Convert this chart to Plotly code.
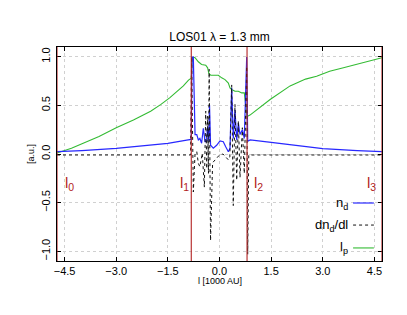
import plotly.graph_objects as go

# ---- data ----
x_nd = [-4.72, -4.0, -3.0, -2.0, -1.5, -0.91, -0.82, -0.80, -0.76, -0.71, -0.66, -0.615, -0.57, -0.52,
        -0.47, -0.42, -0.38, -0.345, -0.31, -0.29, -0.26, -0.18, -0.083, 0.014, 0.11, 0.18, 0.257,
        0.305, 0.354, 0.40, 0.45, 0.50, 0.548, 0.596, 0.664, 0.72, 0.79, 0.82, 0.89, 1.5, 2.0,
        3.0, 4.0, 4.72]
y_nd = [0.024, 0.035, 0.058, 0.09, 0.11, 0.145, 0.15, 0.996, 0.996, 0.20, 0.20, 0.145, 0.16, 0.11,
        0.265, 0.127, 0.127, 0.28, 0.13, 0.507, 0.09, 0.06, 0.09, 0.135, 0.127, 0.075, 0.024,
        0.058, 0.68, 0.16, 0.455, 0.145, 0.317, 0.20, 0.25, 0.16, 0.996, 0.13, 0.145, 0.12, 0.10,
        0.056, 0.035, 0.024]

x_dn = [-4.72, -0.84, -0.81, -0.76, -0.71, -0.66, -0.615, -0.57, -0.50, -0.44, -0.40, -0.37,
        -0.345, -0.32, -0.30, -0.26, -0.20, -0.10, 0.0, 0.10, 0.18, 0.257, 0.30, 0.354, 0.40,
        0.45, 0.50, 0.548, 0.596, 0.664, 0.72, 0.79, 0.82, 0.85, 4.72]
y_dn = [-0.01, -0.01, 1.0, -0.39, 0.007, 0.024, -0.096, -0.13, 0.007, -0.34, 0.44, -0.15,
        0.39, -0.20, 0.87, -0.89, -0.09, -0.05, -0.01, 0.0, -0.03, -0.06, -0.03, 0.71, -0.53,
        0.51, -0.27, 0.34, -0.24, 0.27, -0.20, 0.90, -1.03, -0.01, -0.01]

x_lp = [-4.72, -4.3, -3.96, -3.5, -3.0, -2.5, -2.0, -1.7, -1.44, -1.2, -1.05, -0.9, -0.82, -0.79,
        -0.76, -0.71, -0.615, -0.52, -0.40, -0.345, -0.306, -0.25, -0.034, 0.063, 0.16, 0.257,
        0.305, 0.354, 0.45, 0.548, 0.645, 0.72, 0.76, 0.80, 0.886, 1.1, 1.47, 2.05, 2.5, 2.82,
        3.2, 3.6, 4.2, 4.72]
y_lp = [0.01, 0.06, 0.11, 0.18, 0.27, 0.35, 0.44, 0.51, 0.58, 0.65, 0.70, 0.76, 0.78, 0.99,
        0.996, 0.99, 0.948, 0.92, 0.913, 0.886, 0.824, 0.81, 0.81, 0.783, 0.765, 0.73,
        0.68, 0.662, 0.645, 0.645, 0.628, 0.628, 0.47, 0.386, 0.40, 0.46, 0.56, 0.70, 0.77, 0.80,
        0.85, 0.886, 0.945, 0.99]

bounds = [-4.72, -0.82, 0.80, 4.72]
bound_labels = ["l<sub>0</sub>", "l<sub>1</sub>", "l<sub>2</sub>", "l<sub>3</sub>"]
bound_label_x = [-4.55, -1.21, 0.94, 4.23]

x_ticks = [-4.5, -3.0, -1.5, 0.0, 1.5, 3.0, 4.5]
y_ticks = [-1.0, -0.5, 0.0, 0.5, 1.0]

legend_names = ["n<sub>d</sub>", "dn<sub>d</sub>/dl", "l<sub>p</sub>"]

FONT = "Liberation Sans, Arial, Helvetica, sans-serif"
RED = "#b22222"
BLUE = "#2828ff"
GREEN = "#33bb33"

fig = go.Figure()
fig.add_trace(go.Scatter(x=x_lp, y=y_lp, mode="lines", line=dict(color=GREEN, width=1.1),
                         showlegend=False))
fig.add_trace(go.Scatter(x=x_nd, y=y_nd, mode="lines", line=dict(color=BLUE, width=1.2),
                         showlegend=False))
fig.add_trace(go.Scatter(x=x_dn, y=y_dn, mode="lines", line=dict(color="#111111", width=1.0, dash="dot"),
                         showlegend=False))

for b in bounds:
    fig.add_shape(type="line", x0=b, x1=b, y0=0, y1=1, xref="x", yref="paper",
                  line=dict(color=RED, width=1.1))

for lbl, lx in zip(bound_labels, bound_label_x):
    fig.add_annotation(x=lx, y=-0.30, xref="x", yref="y", text=lbl, showarrow=False,
                       xanchor="left", yanchor="middle",
                       font=dict(family=FONT, size=15, color=RED))

# manual legend (text left of sample line, like the reference)
legend_styles = [dict(color=BLUE, width=1.2), dict(color="#111111", width=1.0, dash="dot"),
                 dict(color=GREEN, width=1.1)]
legend_y = [0.271, 0.168, 0.061]
for name, st, ly in zip(legend_names, legend_styles, legend_y):
    fig.add_annotation(x=0.902, y=ly, xref="paper", yref="paper", text=name, showarrow=False,
                       xanchor="right", yanchor="middle", font=dict(family=FONT, size=13, color="black"))
    fig.add_shape(type="line", x0=0.911, x1=0.975, y0=ly, y1=ly, xref="paper", yref="paper",
                  line=st)

# x-axis title as annotation (placed just below tick labels)
fig.add_annotation(x=0.5, y=-0.093, xref="paper", yref="paper", text="l [1000 AU]", showarrow=False,
                   xanchor="center", yanchor="middle", font=dict(family=FONT, size=9, color="black"))

# page body has an 8px margin, so the figure is shrunk and margins offset by 8px
fig.update_layout(
    width=399, height=307,
    margin=dict(l=49, r=25, t=39, b=54, autoexpand=False),
    paper_bgcolor="white", plot_bgcolor="white",
    font=dict(family=FONT, size=11, color="black"),
    title=dict(text="LOS01 λ = 1.3 mm", x=0.530, xanchor="center", xref="container",
               y=0.9055, yanchor="middle", yref="container", automargin=False,
               font=dict(family=FONT, size=12, color="black")),
    showlegend=False,
)
fig.update_xaxes(range=[-4.72, 4.72], tickvals=x_ticks, tickformat=".1f", automargin=False,
                 showline=True, mirror="ticks", linecolor="black", linewidth=1,
                 ticks="inside", ticklen=4, tickcolor="black", ticklabelstandoff=0,
                 showgrid=True, gridcolor="#d0d0d0", griddash="dot", gridwidth=0.7,
                 zeroline=False, tickfont=dict(size=11))
fig.update_yaxes(range=[-1.1, 1.1], tickvals=y_ticks, tickformat=".1f", tickangle=-90, automargin=False,
                 showline=True, mirror="ticks", linecolor="black", linewidth=1,
                 ticks="inside", ticklen=4, tickcolor="black", ticklabelstandoff=2,
                 showgrid=True, gridcolor="#d0d0d0", griddash="dot", gridwidth=0.7,
                 zeroline=False, tickfont=dict(size=11),
                 title=dict(text="[a.u.]", font=dict(size=9), standoff=3))

fig.write_html("out.html")
